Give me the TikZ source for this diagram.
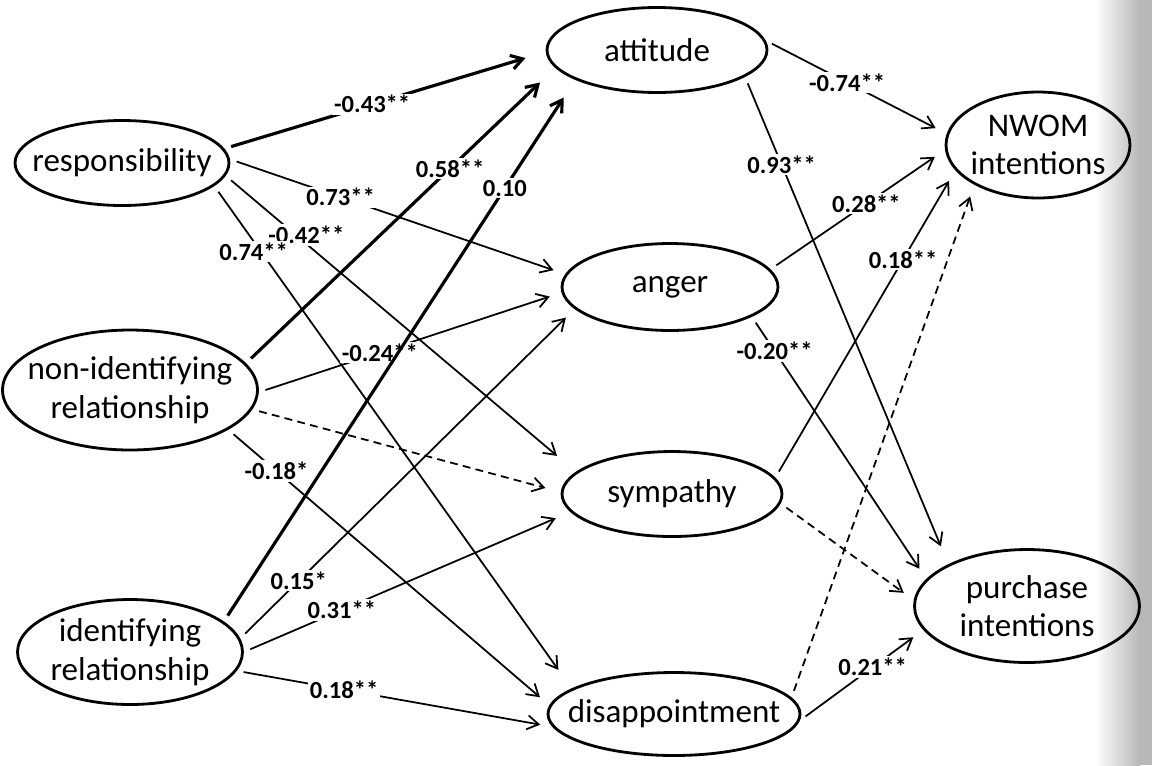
\documentclass[tikz,border=0pt]{standalone}
\usepackage{fontspec}
\setmainfont{Carlito}
\usetikzlibrary{arrows.meta,shapes.geometric}
\newcommand{\nowidth}[1]{\makebox[0pt]{#1}}

\begin{document}
\begin{tikzpicture}[x=0.02cm,y=-0.02cm,
   latent/.style={ellipse,draw,line width=1.6pt,inner sep=0pt,align=center,font=\fontsize{18.8}{22}\selectfont},
   link/.style={line width=1pt,-{Straight Barb[length=6.5pt,width=8pt]},shorten <=4pt,shorten >=7pt},
   heavy/.style={link,line width=1.8pt,shorten >=12pt},
   nonsig/.style={link,dash pattern=on 4.5pt off 3pt},
   coef/.style={fill=white,inner sep=1pt,font=\bfseries\fontsize{14}{16}\selectfont}]
   \useasboundingbox (0,0) rectangle (1152,765);
   \shade[left color=white,right color=black!28] (1095,0) rectangle (1140,765);
   \fill[black!28] (1140,0) rectangle (1152,765);

   \node[latent,minimum width=4.28cm,minimum height=1.7cm] (resp) at (122,163) {\nowidth{responsibility}};
   \node[latent,minimum width=5.1cm,minimum height=2.4cm] (nonid) at (130,390) {\nowidth{non-identifying}\\\nowidth{relationship}};
   \node[latent,minimum width=4.5cm,minimum height=2.1cm] (ident) at (130,652) {\nowidth{identifying}\\\nowidth{relationship}};
   \node[latent,minimum width=4.4cm,minimum height=1.7cm] (att) at (657,50) {\nowidth{attitude}};
   \node[latent,minimum width=4.32cm,minimum height=1.74cm] (anger) at (670,287) {\nowidth{anger}};
   \node[latent,minimum width=4.4cm,minimum height=1.7cm] (symp) at (672,494) {\nowidth{sympathy}};
   \node[latent,minimum width=5.04cm,minimum height=1.66cm] (disap) at (674,714) {\nowidth{disappointment}};
   \node[latent,minimum width=3.68cm,minimum height=2.12cm] (nwom) at (1038,145) {\nowidth{NWOM}\\\nowidth{intentions}};
   \node[latent,minimum width=4.5cm,minimum height=2.26cm] (purch) at (1027,606) {\nowidth{purchase}\\\nowidth{intentions}};

   \draw[heavy] (resp.8) -- node[coef,pos=0.46] {-0.43**} (att.181);
   \draw[link] (resp.2) -- node[coef,pos=0.33] {0.73**} (anger.173);
   \draw[link,shorten >=14pt] (resp.-7) -- node[coef,pos=0.2,xshift=6pt] {-0.42**} (symp.167);
   \draw[link,shorten >=13pt] (resp.-14) -- node[coef,pos=0.13,xshift=-4pt] {0.74**} (disap.166);
   \draw[heavy] (nonid.13) -- node[coef,pos=0.66] {0.58**} (att.190);
   \draw[link] (nonid.-1) -- node[coef,pos=0.4] {-0.24**} (anger.183);
   \draw[nonsig,shorten >=9pt] (nonid.-9) -- (symp.179);
   \draw[link] (nonid.-22) -- node[coef,pos=0.15] {-0.18*} (disap.176);
   \draw[heavy] (ident.18) -- node[coef,pos=0.8] {0.10} (att.200);
   \draw[link] (ident.7) -- node[coef,pos=0.175] {0.15*} (anger.193);
   \draw[link,shorten >=9pt] (ident.0) -- node[coef,pos=0.3] {0.31**} (symp.190);
   \draw[link] (ident.-10) -- node[coef,pos=0.34] {0.18**} (disap.186);
   \draw[link] (att.5) -- node[coef,pos=0.45] {-0.74**} (nwom.173);
   \draw[link,shorten >=11pt] (att.-17) -- node[coef,pos=0.18] {0.93**} (purch.152);
   \draw[link] (anger.10) -- node[coef,pos=0.55] {0.28**} (nwom.183);
   \draw[link] (anger.-20) -- node[coef,pos=0.13] {-0.20**} (purch.165);
   \draw[link] (symp.9) -- node[coef,pos=0.71] {0.18**} (nwom.197);
   \draw[nonsig] (symp.-5) -- (purch.177);
   \draw[nonsig] (disap.8) -- (nwom.212);
   \draw[link] (disap.-3) -- node[coef,pos=0.59] {0.21**} (purch.193);
\end{tikzpicture}
\end{document}
